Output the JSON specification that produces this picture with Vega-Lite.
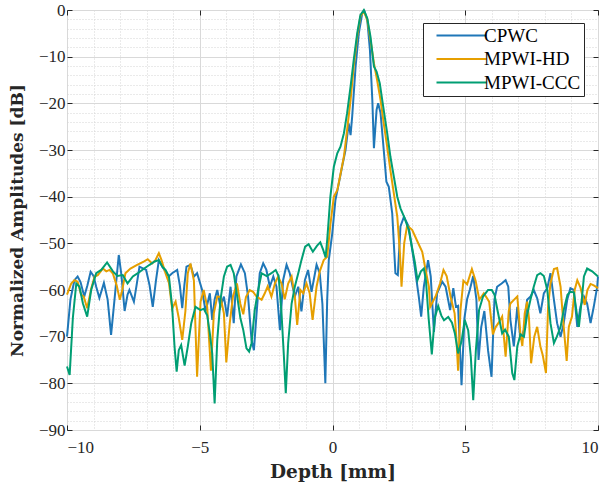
{
"$schema": "https://vega.github.io/schema/vega-lite/v6.json",
"width": 531, "height": 420,
"autosize": {"type": "none"},
"padding": {"left": 67, "top": 10, "right": 10, "bottom": 55},
"background": "white",
"config": {"view": {"stroke": "#262626", "strokeWidth": 1}, "font": "Liberation Serif"},
"data": {"values": [
{"s":"CPWC","x":-10,"y":-70},{"s":"CPWC","x":-9.87,"y":-62},{"s":"CPWC","x":-9.72,"y":-57.9},{"s":"CPWC","x":-9.6,"y":-57.1},{"s":"CPWC","x":-9.49,"y":-58.3},{"s":"CPWC","x":-9.35,"y":-61.4},{"s":"CPWC","x":-9.23,"y":-59},{"s":"CPWC","x":-9.11,"y":-56.1},{"s":"CPWC","x":-9.0,"y":-57},{"s":"CPWC","x":-8.9,"y":-59.3},{"s":"CPWC","x":-8.78,"y":-61.7},{"s":"CPWC","x":-8.61,"y":-58.5},{"s":"CPWC","x":-8.47,"y":-62},{"s":"CPWC","x":-8.34,"y":-69.6},{"s":"CPWC","x":-8.21,"y":-62},{"s":"CPWC","x":-8.05,"y":-52.5},{"s":"CPWC","x":-7.95,"y":-56.8},{"s":"CPWC","x":-7.83,"y":-64.5},{"s":"CPWC","x":-7.72,"y":-61},{"s":"CPWC","x":-7.65,"y":-60},{"s":"CPWC","x":-7.48,"y":-62.5},{"s":"CPWC","x":-7.38,"y":-59},{"s":"CPWC","x":-7.27,"y":-55},{"s":"CPWC","x":-7.16,"y":-55.3},{"s":"CPWC","x":-7.02,"y":-55.7},{"s":"CPWC","x":-6.89,"y":-59},{"s":"CPWC","x":-6.77,"y":-63.6},{"s":"CPWC","x":-6.65,"y":-58},{"s":"CPWC","x":-6.54,"y":-53.6},{"s":"CPWC","x":-6.41,"y":-55},{"s":"CPWC","x":-6.29,"y":-56},{"s":"CPWC","x":-6.17,"y":-57.1},{"s":"CPWC","x":-6.04,"y":-56.4},{"s":"CPWC","x":-5.85,"y":-55.7},{"s":"CPWC","x":-5.75,"y":-59},{"s":"CPWC","x":-5.66,"y":-63.9},{"s":"CPWC","x":-5.58,"y":-59},{"s":"CPWC","x":-5.5,"y":-55},{"s":"CPWC","x":-5.35,"y":-54.6},{"s":"CPWC","x":-5.22,"y":-57.1},{"s":"CPWC","x":-5.1,"y":-56.4},{"s":"CPWC","x":-4.91,"y":-60},{"s":"CPWC","x":-4.78,"y":-64.6},{"s":"CPWC","x":-4.62,"y":-60.7},{"s":"CPWC","x":-4.53,"y":-66.4},{"s":"CPWC","x":-4.44,"y":-62},{"s":"CPWC","x":-4.34,"y":-60},{"s":"CPWC","x":-4.22,"y":-63.6},{"s":"CPWC","x":-4.09,"y":-61.4},{"s":"CPWC","x":-3.97,"y":-65.7},{"s":"CPWC","x":-3.84,"y":-59.3},{"s":"CPWC","x":-3.72,"y":-67.1},{"s":"CPWC","x":-3.62,"y":-57.1},{"s":"CPWC","x":-3.45,"y":-54.5},{"s":"CPWC","x":-3.3,"y":-56.4},{"s":"CPWC","x":-3.18,"y":-61.4},{"s":"CPWC","x":-3.05,"y":-70.7},{"s":"CPWC","x":-2.96,"y":-72.9},{"s":"CPWC","x":-2.86,"y":-65},{"s":"CPWC","x":-2.74,"y":-56.4},{"s":"CPWC","x":-2.61,"y":-54.3},{"s":"CPWC","x":-2.49,"y":-55.7},{"s":"CPWC","x":-2.36,"y":-59.3},{"s":"CPWC","x":-2.23,"y":-57.1},{"s":"CPWC","x":-2.11,"y":-59.3},{"s":"CPWC","x":-1.98,"y":-68.6},{"s":"CPWC","x":-1.86,"y":-57.9},{"s":"CPWC","x":-1.73,"y":-54.6},{"s":"CPWC","x":-1.61,"y":-56.4},{"s":"CPWC","x":-1.42,"y":-61.4},{"s":"CPWC","x":-1.29,"y":-59.3},{"s":"CPWC","x":-1.17,"y":-64.6},{"s":"CPWC","x":-1.04,"y":-57.9},{"s":"CPWC","x":-0.92,"y":-55.7},{"s":"CPWC","x":-0.79,"y":-60.4},{"s":"CPWC","x":-0.6,"y":-54.6},{"s":"CPWC","x":-0.48,"y":-56.4},{"s":"CPWC","x":-0.38,"y":-63},{"s":"CPWC","x":-0.27,"y":-80},{"s":"CPWC","x":-0.2,"y":-62.1},{"s":"CPWC","x":-0.14,"y":-53.6},{"s":"CPWC","x":-0.01,"y":-47.9},{"s":"CPWC","x":0.11,"y":-40.7},{"s":"CPWC","x":0.24,"y":-37.1},{"s":"CPWC","x":0.36,"y":-33.6},{"s":"CPWC","x":0.49,"y":-30},{"s":"CPWC","x":0.61,"y":-24.3},{"s":"CPWC","x":0.68,"y":-26.8},{"s":"CPWC","x":0.74,"y":-22.9},{"s":"CPWC","x":0.87,"y":-12.1},{"s":"CPWC","x":0.99,"y":-5},{"s":"CPWC","x":1.12,"y":-0.7},{"s":"CPWC","x":1.2,"y":-0.2},{"s":"CPWC","x":1.31,"y":-2.1},{"s":"CPWC","x":1.41,"y":-8.6},{"s":"CPWC","x":1.5,"y":-19.3},{"s":"CPWC","x":1.56,"y":-29.6},{"s":"CPWC","x":1.66,"y":-21.4},{"s":"CPWC","x":1.72,"y":-20},{"s":"CPWC","x":1.81,"y":-22.1},{"s":"CPWC","x":1.93,"y":-30},{"s":"CPWC","x":2.03,"y":-36.8},{"s":"CPWC","x":2.12,"y":-37.9},{"s":"CPWC","x":2.25,"y":-43.6},{"s":"CPWC","x":2.37,"y":-56.4},{"s":"CPWC","x":2.46,"y":-56.8},{"s":"CPWC","x":2.56,"y":-46.4},{"s":"CPWC","x":2.69,"y":-44.3},{"s":"CPWC","x":2.87,"y":-46.4},{"s":"CPWC","x":3.06,"y":-53.6},{"s":"CPWC","x":3.25,"y":-61.4},{"s":"CPWC","x":3.34,"y":-65.7},{"s":"CPWC","x":3.44,"y":-59.3},{"s":"CPWC","x":3.6,"y":-53.6},{"s":"CPWC","x":3.7,"y":-57.1},{"s":"CPWC","x":3.82,"y":-69},{"s":"CPWC","x":3.94,"y":-60.7},{"s":"CPWC","x":4.13,"y":-58.2},{"s":"CPWC","x":4.26,"y":-59.3},{"s":"CPWC","x":4.43,"y":-64.3},{"s":"CPWC","x":4.55,"y":-59.6},{"s":"CPWC","x":4.65,"y":-63.6},{"s":"CPWC","x":4.73,"y":-63.4},{"s":"CPWC","x":4.86,"y":-80.4},{"s":"CPWC","x":4.97,"y":-66},{"s":"CPWC","x":5.07,"y":-62},{"s":"CPWC","x":5.17,"y":-60},{"s":"CPWC","x":5.3,"y":-57},{"s":"CPWC","x":5.42,"y":-62},{"s":"CPWC","x":5.5,"y":-75},{"s":"CPWC","x":5.6,"y":-68},{"s":"CPWC","x":5.72,"y":-64.5},{"s":"CPWC","x":5.86,"y":-73},{"s":"CPWC","x":5.99,"y":-78.6},{"s":"CPWC","x":6.1,"y":-62},{"s":"CPWC","x":6.2,"y":-59.3},{"s":"CPWC","x":6.37,"y":-58.6},{"s":"CPWC","x":6.52,"y":-57.9},{"s":"CPWC","x":6.62,"y":-59.3},{"s":"CPWC","x":6.7,"y":-66.4},{"s":"CPWC","x":6.83,"y":-72.1},{"s":"CPWC","x":6.96,"y":-63.6},{"s":"CPWC","x":7.08,"y":-70.7},{"s":"CPWC","x":7.21,"y":-68.6},{"s":"CPWC","x":7.33,"y":-62.1},{"s":"CPWC","x":7.46,"y":-61.4},{"s":"CPWC","x":7.58,"y":-60},{"s":"CPWC","x":7.71,"y":-61.8},{"s":"CPWC","x":7.83,"y":-65},{"s":"CPWC","x":7.96,"y":-60.7},{"s":"CPWC","x":8.09,"y":-59.6},{"s":"CPWC","x":8.21,"y":-56.4},{"s":"CPWC","x":8.34,"y":-62.1},{"s":"CPWC","x":8.46,"y":-67.1},{"s":"CPWC","x":8.59,"y":-70},{"s":"CPWC","x":8.71,"y":-67.1},{"s":"CPWC","x":8.84,"y":-62.1},{"s":"CPWC","x":8.96,"y":-59.6},{"s":"CPWC","x":9.09,"y":-60},{"s":"CPWC","x":9.22,"y":-67.9},{"s":"CPWC","x":9.34,"y":-63.6},{"s":"CPWC","x":9.47,"y":-61.4},{"s":"CPWC","x":9.59,"y":-62.9},{"s":"CPWC","x":9.72,"y":-67.1},{"s":"CPWC","x":9.84,"y":-63.6},{"s":"CPWC","x":9.97,"y":-59.3},{"s":"CPWC","x":10,"y":-57.1},
{"s":"MPWI-HD","x":-10,"y":-61},{"s":"MPWI-HD","x":-9.84,"y":-58.6},{"s":"MPWI-HD","x":-9.72,"y":-57.9},{"s":"MPWI-HD","x":-9.6,"y":-58.2},{"s":"MPWI-HD","x":-9.47,"y":-61},{"s":"MPWI-HD","x":-9.37,"y":-61.4},{"s":"MPWI-HD","x":-9.24,"y":-63.9},{"s":"MPWI-HD","x":-9.08,"y":-59.5},{"s":"MPWI-HD","x":-8.96,"y":-57.1},{"s":"MPWI-HD","x":-8.84,"y":-56.8},{"s":"MPWI-HD","x":-8.65,"y":-55.4},{"s":"MPWI-HD","x":-8.52,"y":-56},{"s":"MPWI-HD","x":-8.4,"y":-55.7},{"s":"MPWI-HD","x":-8.27,"y":-56.5},{"s":"MPWI-HD","x":-8.13,"y":-59},{"s":"MPWI-HD","x":-8.01,"y":-62.1},{"s":"MPWI-HD","x":-7.92,"y":-60},{"s":"MPWI-HD","x":-7.8,"y":-56.4},{"s":"MPWI-HD","x":-7.61,"y":-55.4},{"s":"MPWI-HD","x":-7.36,"y":-54.6},{"s":"MPWI-HD","x":-7.11,"y":-53.9},{"s":"MPWI-HD","x":-6.96,"y":-53.4},{"s":"MPWI-HD","x":-6.79,"y":-54.3},{"s":"MPWI-HD","x":-6.67,"y":-53.6},{"s":"MPWI-HD","x":-6.54,"y":-52.1},{"s":"MPWI-HD","x":-6.44,"y":-53.6},{"s":"MPWI-HD","x":-6.29,"y":-56.4},{"s":"MPWI-HD","x":-6.16,"y":-58.5},{"s":"MPWI-HD","x":-6.04,"y":-64},{"s":"MPWI-HD","x":-5.91,"y":-62.5},{"s":"MPWI-HD","x":-5.79,"y":-66},{"s":"MPWI-HD","x":-5.66,"y":-70.7},{"s":"MPWI-HD","x":-5.54,"y":-64.5},{"s":"MPWI-HD","x":-5.45,"y":-56.4},{"s":"MPWI-HD","x":-5.35,"y":-54.3},{"s":"MPWI-HD","x":-5.22,"y":-58},{"s":"MPWI-HD","x":-5.1,"y":-78.6},{"s":"MPWI-HD","x":-4.97,"y":-62.5},{"s":"MPWI-HD","x":-4.85,"y":-60},{"s":"MPWI-HD","x":-4.72,"y":-63.6},{"s":"MPWI-HD","x":-4.58,"y":-77.3},{"s":"MPWI-HD","x":-4.47,"y":-65},{"s":"MPWI-HD","x":-4.34,"y":-61.4},{"s":"MPWI-HD","x":-4.22,"y":-61.5},{"s":"MPWI-HD","x":-4.09,"y":-65},{"s":"MPWI-HD","x":-4.0,"y":-75.5},{"s":"MPWI-HD","x":-3.87,"y":-67.1},{"s":"MPWI-HD","x":-3.75,"y":-61.4},{"s":"MPWI-HD","x":-3.6,"y":-58.6},{"s":"MPWI-HD","x":-3.47,"y":-63},{"s":"MPWI-HD","x":-3.36,"y":-65.2},{"s":"MPWI-HD","x":-3.26,"y":-61.5},{"s":"MPWI-HD","x":-3.12,"y":-60},{"s":"MPWI-HD","x":-2.99,"y":-60.4},{"s":"MPWI-HD","x":-2.86,"y":-61.4},{"s":"MPWI-HD","x":-2.67,"y":-62.1},{"s":"MPWI-HD","x":-2.55,"y":-60.7},{"s":"MPWI-HD","x":-2.44,"y":-59.2},{"s":"MPWI-HD","x":-2.3,"y":-61.4},{"s":"MPWI-HD","x":-2.17,"y":-58.6},{"s":"MPWI-HD","x":-2.05,"y":-57.1},{"s":"MPWI-HD","x":-1.92,"y":-58.6},{"s":"MPWI-HD","x":-1.8,"y":-62},{"s":"MPWI-HD","x":-1.67,"y":-58.6},{"s":"MPWI-HD","x":-1.54,"y":-57.1},{"s":"MPWI-HD","x":-1.42,"y":-61.4},{"s":"MPWI-HD","x":-1.33,"y":-67.5},{"s":"MPWI-HD","x":-1.21,"y":-60},{"s":"MPWI-HD","x":-1.1,"y":-60.7},{"s":"MPWI-HD","x":-0.98,"y":-58.6},{"s":"MPWI-HD","x":-0.86,"y":-60.7},{"s":"MPWI-HD","x":-0.75,"y":-66.4},{"s":"MPWI-HD","x":-0.6,"y":-59.3},{"s":"MPWI-HD","x":-0.48,"y":-56},{"s":"MPWI-HD","x":-0.33,"y":-53.6},{"s":"MPWI-HD","x":-0.2,"y":-52.9},{"s":"MPWI-HD","x":-0.08,"y":-46},{"s":"MPWI-HD","x":0.05,"y":-40},{"s":"MPWI-HD","x":0.18,"y":-38.6},{"s":"MPWI-HD","x":0.3,"y":-35.2},{"s":"MPWI-HD","x":0.43,"y":-31.4},{"s":"MPWI-HD","x":0.55,"y":-25.7},{"s":"MPWI-HD","x":0.68,"y":-19.3},{"s":"MPWI-HD","x":0.8,"y":-12.1},{"s":"MPWI-HD","x":0.93,"y":-5.7},{"s":"MPWI-HD","x":1.05,"y":-1.4},{"s":"MPWI-HD","x":1.18,"y":-0.3},{"s":"MPWI-HD","x":1.31,"y":-2.1},{"s":"MPWI-HD","x":1.43,"y":-6.4},{"s":"MPWI-HD","x":1.56,"y":-11.4},{"s":"MPWI-HD","x":1.68,"y":-15},{"s":"MPWI-HD","x":1.81,"y":-19.3},{"s":"MPWI-HD","x":1.93,"y":-24.3},{"s":"MPWI-HD","x":2.06,"y":-29.3},{"s":"MPWI-HD","x":2.18,"y":-34.3},{"s":"MPWI-HD","x":2.31,"y":-39.3},{"s":"MPWI-HD","x":2.44,"y":-44.3},{"s":"MPWI-HD","x":2.54,"y":-52.1},{"s":"MPWI-HD","x":2.6,"y":-59.3},{"s":"MPWI-HD","x":2.7,"y":-50},{"s":"MPWI-HD","x":2.81,"y":-46.2},{"s":"MPWI-HD","x":3.0,"y":-47.1},{"s":"MPWI-HD","x":3.19,"y":-49.5},{"s":"MPWI-HD","x":3.38,"y":-51.8},{"s":"MPWI-HD","x":3.5,"y":-55.5},{"s":"MPWI-HD","x":3.63,"y":-59.3},{"s":"MPWI-HD","x":3.68,"y":-63.6},{"s":"MPWI-HD","x":3.88,"y":-61.4},{"s":"MPWI-HD","x":4.05,"y":-58.6},{"s":"MPWI-HD","x":4.18,"y":-55.7},{"s":"MPWI-HD","x":4.3,"y":-57},{"s":"MPWI-HD","x":4.45,"y":-61.5},{"s":"MPWI-HD","x":4.6,"y":-65},{"s":"MPWI-HD","x":4.67,"y":-70.7},{"s":"MPWI-HD","x":4.73,"y":-77.3},{"s":"MPWI-HD","x":4.82,"y":-64.3},{"s":"MPWI-HD","x":4.93,"y":-58},{"s":"MPWI-HD","x":5.07,"y":-58.8},{"s":"MPWI-HD","x":5.25,"y":-55.5},{"s":"MPWI-HD","x":5.39,"y":-58},{"s":"MPWI-HD","x":5.53,"y":-62.1},{"s":"MPWI-HD","x":5.7,"y":-60.7},{"s":"MPWI-HD","x":5.9,"y":-62.5},{"s":"MPWI-HD","x":6.04,"y":-69.5},{"s":"MPWI-HD","x":6.14,"y":-68},{"s":"MPWI-HD","x":6.26,"y":-67},{"s":"MPWI-HD","x":6.39,"y":-65.7},{"s":"MPWI-HD","x":6.52,"y":-74.3},{"s":"MPWI-HD","x":6.64,"y":-64.5},{"s":"MPWI-HD","x":6.7,"y":-62.9},{"s":"MPWI-HD","x":6.85,"y":-62},{"s":"MPWI-HD","x":6.96,"y":-61.4},{"s":"MPWI-HD","x":7.08,"y":-69.5},{"s":"MPWI-HD","x":7.15,"y":-72},{"s":"MPWI-HD","x":7.24,"y":-65},{"s":"MPWI-HD","x":7.33,"y":-62.5},{"s":"MPWI-HD","x":7.4,"y":-66},{"s":"MPWI-HD","x":7.48,"y":-75.7},{"s":"MPWI-HD","x":7.6,"y":-70},{"s":"MPWI-HD","x":7.71,"y":-67.9},{"s":"MPWI-HD","x":7.83,"y":-72.1},{"s":"MPWI-HD","x":7.92,"y":-74},{"s":"MPWI-HD","x":8.04,"y":-77.8},{"s":"MPWI-HD","x":8.12,"y":-63.6},{"s":"MPWI-HD","x":8.21,"y":-58.6},{"s":"MPWI-HD","x":8.34,"y":-55.5},{"s":"MPWI-HD","x":8.46,"y":-55.3},{"s":"MPWI-HD","x":8.59,"y":-59.3},{"s":"MPWI-HD","x":8.68,"y":-66},{"s":"MPWI-HD","x":8.82,"y":-75.2},{"s":"MPWI-HD","x":8.9,"y":-67.9},{"s":"MPWI-HD","x":9.02,"y":-65.7},{"s":"MPWI-HD","x":9.12,"y":-60},{"s":"MPWI-HD","x":9.22,"y":-57.9},{"s":"MPWI-HD","x":9.34,"y":-59.5},{"s":"MPWI-HD","x":9.5,"y":-63.2},{"s":"MPWI-HD","x":9.6,"y":-60},{"s":"MPWI-HD","x":9.72,"y":-58.7},{"s":"MPWI-HD","x":9.84,"y":-59},{"s":"MPWI-HD","x":10,"y":-59.6},
{"s":"MPWI-CCC","x":-10,"y":-76.4},{"s":"MPWI-CCC","x":-9.9,"y":-78.2},{"s":"MPWI-CCC","x":-9.78,"y":-66},{"s":"MPWI-CCC","x":-9.65,"y":-58.6},{"s":"MPWI-CCC","x":-9.53,"y":-59.3},{"s":"MPWI-CCC","x":-9.4,"y":-62.9},{"s":"MPWI-CCC","x":-9.24,"y":-65.7},{"s":"MPWI-CCC","x":-9.09,"y":-60},{"s":"MPWI-CCC","x":-8.9,"y":-56.4},{"s":"MPWI-CCC","x":-8.71,"y":-55.7},{"s":"MPWI-CCC","x":-8.49,"y":-54.1},{"s":"MPWI-CCC","x":-8.27,"y":-56},{"s":"MPWI-CCC","x":-8.1,"y":-57},{"s":"MPWI-CCC","x":-7.9,"y":-56.8},{"s":"MPWI-CCC","x":-7.72,"y":-58.6},{"s":"MPWI-CCC","x":-7.52,"y":-57.1},{"s":"MPWI-CCC","x":-7.33,"y":-56.4},{"s":"MPWI-CCC","x":-7.12,"y":-55.5},{"s":"MPWI-CCC","x":-6.89,"y":-54.6},{"s":"MPWI-CCC","x":-6.7,"y":-53.9},{"s":"MPWI-CCC","x":-6.54,"y":-53.6},{"s":"MPWI-CCC","x":-6.41,"y":-55},{"s":"MPWI-CCC","x":-6.29,"y":-55.7},{"s":"MPWI-CCC","x":-6.16,"y":-57.1},{"s":"MPWI-CCC","x":-6.04,"y":-63.6},{"s":"MPWI-CCC","x":-5.95,"y":-72.1},{"s":"MPWI-CCC","x":-5.87,"y":-77.5},{"s":"MPWI-CCC","x":-5.79,"y":-72.9},{"s":"MPWI-CCC","x":-5.7,"y":-71.8},{"s":"MPWI-CCC","x":-5.57,"y":-76.2},{"s":"MPWI-CCC","x":-5.45,"y":-72.1},{"s":"MPWI-CCC","x":-5.32,"y":-67.1},{"s":"MPWI-CCC","x":-5.16,"y":-63.6},{"s":"MPWI-CCC","x":-4.97,"y":-64.3},{"s":"MPWI-CCC","x":-4.85,"y":-64},{"s":"MPWI-CCC","x":-4.72,"y":-65.4},{"s":"MPWI-CCC","x":-4.62,"y":-69.3},{"s":"MPWI-CCC","x":-4.53,"y":-73.6},{"s":"MPWI-CCC","x":-4.44,"y":-84.3},{"s":"MPWI-CCC","x":-4.34,"y":-70.7},{"s":"MPWI-CCC","x":-4.22,"y":-62.1},{"s":"MPWI-CCC","x":-4.09,"y":-57.1},{"s":"MPWI-CCC","x":-3.97,"y":-55},{"s":"MPWI-CCC","x":-3.84,"y":-54.6},{"s":"MPWI-CCC","x":-3.72,"y":-56.4},{"s":"MPWI-CCC","x":-3.57,"y":-62.1},{"s":"MPWI-CCC","x":-3.47,"y":-66},{"s":"MPWI-CCC","x":-3.36,"y":-68.6},{"s":"MPWI-CCC","x":-3.24,"y":-72.5},{"s":"MPWI-CCC","x":-3.14,"y":-73.2},{"s":"MPWI-CCC","x":-3.05,"y":-71.4},{"s":"MPWI-CCC","x":-2.93,"y":-64.3},{"s":"MPWI-CCC","x":-2.8,"y":-60},{"s":"MPWI-CCC","x":-2.67,"y":-56.4},{"s":"MPWI-CCC","x":-2.48,"y":-57},{"s":"MPWI-CCC","x":-2.3,"y":-56.4},{"s":"MPWI-CCC","x":-2.14,"y":-55.7},{"s":"MPWI-CCC","x":-2.03,"y":-57},{"s":"MPWI-CCC","x":-1.92,"y":-65},{"s":"MPWI-CCC","x":-1.83,"y":-74.3},{"s":"MPWI-CCC","x":-1.76,"y":-82.1},{"s":"MPWI-CCC","x":-1.67,"y":-71.4},{"s":"MPWI-CCC","x":-1.54,"y":-62.9},{"s":"MPWI-CCC","x":-1.42,"y":-59.3},{"s":"MPWI-CCC","x":-1.29,"y":-56.4},{"s":"MPWI-CCC","x":-1.17,"y":-53.6},{"s":"MPWI-CCC","x":-1.03,"y":-50.7},{"s":"MPWI-CCC","x":-0.9,"y":-50.2},{"s":"MPWI-CCC","x":-0.74,"y":-51.8},{"s":"MPWI-CCC","x":-0.58,"y":-50.5},{"s":"MPWI-CCC","x":-0.46,"y":-49.8},{"s":"MPWI-CCC","x":-0.35,"y":-51.4},{"s":"MPWI-CCC","x":-0.26,"y":-53},{"s":"MPWI-CCC","x":-0.2,"y":-49.3},{"s":"MPWI-CCC","x":-0.08,"y":-40},{"s":"MPWI-CCC","x":0.05,"y":-33.6},{"s":"MPWI-CCC","x":0.18,"y":-30.7},{"s":"MPWI-CCC","x":0.3,"y":-29.3},{"s":"MPWI-CCC","x":0.43,"y":-26.4},{"s":"MPWI-CCC","x":0.55,"y":-22.1},{"s":"MPWI-CCC","x":0.68,"y":-16.4},{"s":"MPWI-CCC","x":0.8,"y":-10.7},{"s":"MPWI-CCC","x":0.93,"y":-5},{"s":"MPWI-CCC","x":1.05,"y":-1.1},{"s":"MPWI-CCC","x":1.18,"y":0},{"s":"MPWI-CCC","x":1.31,"y":-1.8},{"s":"MPWI-CCC","x":1.43,"y":-5.7},{"s":"MPWI-CCC","x":1.56,"y":-12.1},{"s":"MPWI-CCC","x":1.66,"y":-13.2},{"s":"MPWI-CCC","x":1.78,"y":-15.7},{"s":"MPWI-CCC","x":1.91,"y":-20.7},{"s":"MPWI-CCC","x":2.06,"y":-26.4},{"s":"MPWI-CCC","x":2.18,"y":-31.4},{"s":"MPWI-CCC","x":2.31,"y":-35.7},{"s":"MPWI-CCC","x":2.44,"y":-40},{"s":"MPWI-CCC","x":2.56,"y":-42.5},{"s":"MPWI-CCC","x":2.71,"y":-44.5},{"s":"MPWI-CCC","x":2.87,"y":-47.1},{"s":"MPWI-CCC","x":3.0,"y":-51},{"s":"MPWI-CCC","x":3.1,"y":-54},{"s":"MPWI-CCC","x":3.2,"y":-57.9},{"s":"MPWI-CCC","x":3.33,"y":-56},{"s":"MPWI-CCC","x":3.44,"y":-55.4},{"s":"MPWI-CCC","x":3.52,"y":-58},{"s":"MPWI-CCC","x":3.62,"y":-66},{"s":"MPWI-CCC","x":3.74,"y":-73.8},{"s":"MPWI-CCC","x":3.85,"y":-66},{"s":"MPWI-CCC","x":3.98,"y":-63.4},{"s":"MPWI-CCC","x":4.1,"y":-65.5},{"s":"MPWI-CCC","x":4.2,"y":-66.5},{"s":"MPWI-CCC","x":4.36,"y":-65.8},{"s":"MPWI-CCC","x":4.5,"y":-67},{"s":"MPWI-CCC","x":4.61,"y":-69.3},{"s":"MPWI-CCC","x":4.73,"y":-73.6},{"s":"MPWI-CCC","x":4.86,"y":-71},{"s":"MPWI-CCC","x":4.98,"y":-66.4},{"s":"MPWI-CCC","x":5.11,"y":-68.6},{"s":"MPWI-CCC","x":5.21,"y":-74.3},{"s":"MPWI-CCC","x":5.3,"y":-83.6},{"s":"MPWI-CCC","x":5.4,"y":-72.9},{"s":"MPWI-CCC","x":5.52,"y":-64.3},{"s":"MPWI-CCC","x":5.67,"y":-61.4},{"s":"MPWI-CCC","x":5.86,"y":-60},{"s":"MPWI-CCC","x":6.0,"y":-60},{"s":"MPWI-CCC","x":6.1,"y":-61},{"s":"MPWI-CCC","x":6.22,"y":-64.5},{"s":"MPWI-CCC","x":6.39,"y":-69.3},{"s":"MPWI-CCC","x":6.5,"y":-68.5},{"s":"MPWI-CCC","x":6.64,"y":-70},{"s":"MPWI-CCC","x":6.77,"y":-77.8},{"s":"MPWI-CCC","x":6.85,"y":-79.3},{"s":"MPWI-CCC","x":6.96,"y":-72.1},{"s":"MPWI-CCC","x":7.08,"y":-69.5},{"s":"MPWI-CCC","x":7.21,"y":-70},{"s":"MPWI-CCC","x":7.33,"y":-65.3},{"s":"MPWI-CCC","x":7.46,"y":-62},{"s":"MPWI-CCC","x":7.58,"y":-59.3},{"s":"MPWI-CCC","x":7.71,"y":-56.8},{"s":"MPWI-CCC","x":7.83,"y":-56.4},{"s":"MPWI-CCC","x":7.96,"y":-57},{"s":"MPWI-CCC","x":8.09,"y":-60},{"s":"MPWI-CCC","x":8.21,"y":-67.1},{"s":"MPWI-CCC","x":8.34,"y":-71.4},{"s":"MPWI-CCC","x":8.45,"y":-70},{"s":"MPWI-CCC","x":8.59,"y":-67.9},{"s":"MPWI-CCC","x":8.72,"y":-64},{"s":"MPWI-CCC","x":8.85,"y":-61},{"s":"MPWI-CCC","x":8.96,"y":-60.4},{"s":"MPWI-CCC","x":9.09,"y":-60.5},{"s":"MPWI-CCC","x":9.2,"y":-65},{"s":"MPWI-CCC","x":9.28,"y":-67.9},{"s":"MPWI-CCC","x":9.4,"y":-61.4},{"s":"MPWI-CCC","x":9.47,"y":-57.1},{"s":"MPWI-CCC","x":9.59,"y":-55.4},{"s":"MPWI-CCC","x":9.78,"y":-56},{"s":"MPWI-CCC","x":10,"y":-57.1}
]},
"layer": [
{
"mark": {"type": "line", "strokeOpacity": 0},
"encoding": {
"detail": {"field": "s", "type": "nominal"},
"x": {"field": "x", "type": "quantitative", "scale": {"domain": [-10, 10], "nice": false, "zero": false},
"axis": {"values": [-10,-9,-8,-7,-6,-5,-4,-3,-2,-1,0,1,2,3,4,5,6,7,8,9,10], "grid": true, "gridColor": "#d4d4d4", "gridDash": [1, 2], "gridWidth": 1, "labels": false, "ticks": false, "domain": false, "title": null}},
"y": {"field": "y", "type": "quantitative", "scale": {"domain": [-90, 0], "nice": false, "zero": false},
"axis": {"values": [-90,-88,-86,-84,-82,-80,-78,-76,-74,-72,-70,-68,-66,-64,-62,-60,-58,-56,-54,-52,-50,-48,-46,-44,-42,-40,-38,-36,-34,-32,-30,-28,-26,-24,-22,-20,-18,-16,-14,-12,-10,-8,-6,-4,-2,0], "grid": true, "gridColor": "#d4d4d4", "gridDash": [1, 2], "gridWidth": 1, "labels": false, "ticks": false, "domain": false, "title": null}}
}
},
{
"mark": {"type": "line", "strokeOpacity": 0},
"encoding": {
"detail": {"field": "s", "type": "nominal"},
"x": {"field": "x", "type": "quantitative",
"axis": {"orient": "top", "values": [-10,-5,0,5,10], "grid": false, "labels": false, "ticks": true, "tickSize": -5, "tickColor": "#262626", "domain": false, "title": null}},
"y": {"field": "y", "type": "quantitative",
"axis": {"orient": "right", "values": [-90,-80,-70,-60,-50,-40,-30,-20,-10,0], "grid": false, "labels": false, "ticks": true, "tickSize": -5, "tickColor": "#262626", "domain": false, "title": null}}
}
},
{
"mark": {"type": "line", "strokeWidth": 2},
"encoding": {
"x": {"field": "x", "type": "quantitative",
"axis": {"orient": "bottom", "values": [-10,-5,0,5,10], "grid": true, "gridColor": "#d9d9d9", "gridWidth": 1, "ticks": true, "tickSize": -5, "tickColor": "#262626", "domain": false, "labelFont": "Liberation Serif", "labelFontSize": 17, "labelColor": "#262626", "labelPadding": 14, "title": "Depth [mm]", "titleFont": "DejaVu Serif", "titleFontSize": 18.5, "titleFontWeight": "bold", "titleColor": "#262626", "titlePadding": 7}},
"y": {"field": "y", "type": "quantitative",
"axis": {"orient": "left", "values": [-90,-80,-70,-60,-50,-40,-30,-20,-10,0], "grid": true, "gridColor": "#d9d9d9", "gridWidth": 1, "ticks": true, "tickSize": -5, "tickColor": "#262626", "domain": false, "labelFont": "Liberation Serif", "labelFontSize": 17, "labelColor": "#262626", "labelPadding": 7, "title": "Normalized Amplitudes [dB]", "titleFont": "DejaVu Serif", "titleFontSize": 17, "titleFontWeight": "bold", "titleColor": "#262626", "titlePadding": 12}},
"color": {"field": "s", "type": "nominal", "sort": ["CPWC", "MPWI-HD", "MPWI-CCC"],
"scale": {"domain": ["CPWC", "MPWI-HD", "MPWI-CCC"], "range": ["#1f77b8", "#E69F00", "#009E73"]},
"legend": {"orient": "none", "legendX": 356, "legendY": 13, "title": null, "symbolType": "M-5,0H5", "symbolSize": 100, "symbolOffset": 26, "symbolStrokeWidth": 2, "labelFont": "Liberation Serif", "labelFontSize": 19, "labelColor": "#000000", "labelExpr": "datum.label + '\u2009'", "fillColor": "white", "strokeColor": "#262626", "padding": 3, "rowPadding": 3.5, "labelOffset": 13}}
}
}
],
"resolve": {"axis": {"x": "independent", "y": "independent"}}
}
